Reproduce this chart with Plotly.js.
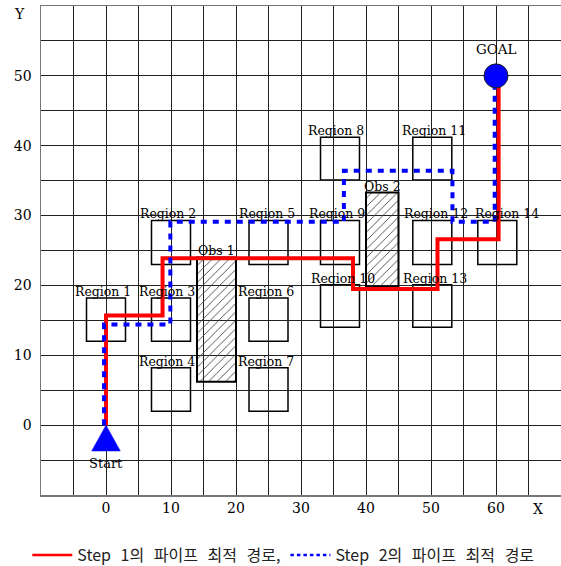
<!DOCTYPE html>
<html>
<head>
<meta charset="utf-8">
<script src="https://cdn.plot.ly/plotly-3.0.1.min.js"></script>
<style>html,body{margin:0;padding:0;background:#fff}#chart{width:561px;height:566px}
.legendtext{word-spacing:6px}</style>
</head>
<body>
<div id="chart"></div>
<script>
// ---- data ----
const regionNames = ['Region 1','Region 2','Region 3','Region 4','Region 5','Region 6','Region 7',
  'Region 8','Region 9','Region 10','Region 11','Region 12','Region 13','Region 14'];
const regionX0 = [-3, 7, 7, 7, 22, 22, 22, 33, 33, 33, 47.2, 47.2, 47.2, 57.2];
const regionX1 = [ 3, 13, 13, 13, 28, 28, 28, 39, 39, 39, 53.2, 53.2, 53.2, 63.2];
const regionY0 = [12, 23, 12, 2, 23, 12, 2, 35.1, 23, 14, 35.1, 23, 14, 23];
const regionY1 = [18.2, 29.3, 18.2, 8.2, 29.3, 18.2, 8.2, 41.2, 29.3, 20.1, 41.2, 29.3, 20.1, 29.3];
const labelDx  = [-0.5, -0.5, -0.6, -0.6, -0.3, -0.4, -0.4, -0.6, -0.5, 0.5, 0.3, 0.5, 0.4, 1.5];

const obsNames = ['Obs 1', 'Obs 2'];
const obsX0 = [14, 40];
const obsX1 = [20, 45];
const obsY0 = [6.2, 19.8];
const obsY1 = [24, 33.3];

const step1X = [0, 0, 8.7, 8.7, 38, 38, 51, 51, 60.4, 60.4];
const step1Y = [0, 15.7, 15.7, 23.9, 23.9, 19.5, 19.5, 26.6, 26.6, 50];
const step2X = [-0.3, -0.3, 9.9, 9.9, 36.6, 36.6, 53.3, 53.3, 59.8, 59.8];
const step2Y = [0, 14.4, 14.4, 29.1, 29.1, 36.4, 36.4, 29.1, 29.1, 50];

const startPt = [0, 0];
const goalPt = [60, 50];

const xTickVals = [0, 10, 20, 30, 40, 50, 60];
const yTickVals = [0, 10, 20, 30, 40, 50];

const seriesNames = ['Step 1의 파이프 최적 경로,', 'Step 2의 파이프 최적 경로'];

// ---- build ----
const serif = 'DejaVu Serif';
const traces = [];

traces.push({
  type: 'bar',
  x: obsX0.map((v, i) => (v + obsX1[i]) / 2),
  width: obsX0.map((v, i) => obsX1[i] - v),
  base: obsY0,
  y: obsY0.map((v, i) => obsY1[i] - v),
  marker: {
    color: 'rgba(255,255,255,0)',
    line: {color: '#000', width: 2},
    pattern: {shape: '/', fgcolor: '#444', bgcolor: 'rgba(255,255,255,0)', size: 6, solidity: 0.15}
  },
  showlegend: false, hoverinfo: 'skip'
});

traces.push({
  type: 'scatter', mode: 'lines', name: seriesNames[0],
  x: step1X, y: step1Y, showlegend: false,
  line: {color: '#ff0000', width: 4}
});
traces.push({
  type: 'scatter', mode: 'lines', name: seriesNames[1],
  x: step2X, y: step2Y, showlegend: false,
  line: {color: '#0000ff', width: 4, dash: '6px,6px'}
});
// legend entries (thin lines as in the reference legend)
traces.push({
  type: 'scatter', mode: 'lines', name: seriesNames[0], x: [null], y: [null],
  line: {color: '#ff0000', width: 2.5}, hoverinfo: 'skip'
});
traces.push({
  type: 'scatter', mode: 'lines', name: seriesNames[1], x: [null], y: [null],
  line: {color: '#0000ff', width: 2.5, dash: '3.5px,3px'}, hoverinfo: 'skip'
});

// start triangle
const triHW = 2.2, triH = 3.7;
traces.push({
  type: 'scatter', mode: 'lines', fill: 'toself', fillcolor: '#0000ff',
  x: [startPt[0] - triHW, startPt[0] + triHW, startPt[0], startPt[0] - triHW],
  y: [startPt[1] - triH, startPt[1] - triH, startPt[1], startPt[1] - triH],
  line: {color: '#0000ff', width: 0.5}, showlegend: false, hoverinfo: 'skip'
});
// goal
traces.push({
  type: 'scatter', mode: 'markers', x: [goalPt[0]], y: [goalPt[1]],
  marker: {color: '#0000ff', size: 24, line: {color: '#222', width: 1}},
  showlegend: false, hoverinfo: 'skip'
});

const shapes = regionNames.map((n, i) => ({
  type: 'rect', xref: 'x', yref: 'y', layer: 'below',
  x0: regionX0[i], x1: regionX1[i], y0: regionY0[i], y1: regionY1[i],
  line: {color: '#000', width: 1.5}, fillcolor: 'rgba(0,0,0,0)'
}));

const annotations = [];
regionNames.forEach((n, i) => {
  annotations.push({
    x: (regionX0[i] + regionX1[i]) / 2 + labelDx[i], y: regionY1[i],
    xref: 'x', yref: 'y', text: n, showarrow: false,
    xanchor: 'center', yanchor: 'bottom', yshift: -3,
    font: {family: serif, size: 12.5, color: '#000'}
  });
});
obsNames.forEach((n, i) => {
  annotations.push({
    x: (obsX0[i] + obsX1[i]) / 2, y: obsY1[i],
    xref: 'x', yref: 'y', text: n, showarrow: false,
    xanchor: 'center', yanchor: 'bottom', yshift: -3,
    font: {family: serif, size: 12.5, color: '#000'}
  });
});
annotations.push({x: startPt[0], y: startPt[1], xref: 'x', yref: 'y', text: 'Start', showarrow: false,
  xanchor: 'center', yanchor: 'middle', yshift: -38, font: {family: serif, size: 13, color: '#000'}});
annotations.push({x: goalPt[0], y: goalPt[1], xref: 'x', yref: 'y', text: 'GOAL', showarrow: false,
  xanchor: 'center', yanchor: 'middle', yshift: 27, font: {family: serif, size: 13.5, color: '#000'}});
annotations.push({x: 0.956, y: -0.0286, xref: 'paper', yref: 'paper', text: 'X', showarrow: false,
  xanchor: 'center', yanchor: 'middle', font: {family: serif, size: 14, color: '#000'}});
annotations.push({x: -0.0413, y: 0.984, xref: 'paper', yref: 'paper', text: 'Y', showarrow: false,
  xanchor: 'center', yanchor: 'middle', font: {family: serif, size: 14, color: '#000'}});

const layout = {
  width: 561, height: 566,
  margin: {l: 41, r: 0, t: 6, b: 71},
  paper_bgcolor: '#fff', plot_bgcolor: '#fff',
  barmode: 'overlay',
  xaxis: {
    range: [-10, 70], tickmode: 'array', tickvals: xTickVals, ticktext: xTickVals.map(String),
    showgrid: true, gridcolor: '#222', gridwidth: 1,
    minor: {dtick: 5, tick0: 0, showgrid: true, gridcolor: '#222', gridwidth: 1},
    zeroline: false, showline: true, mirror: true, linecolor: '#777', linewidth: 1.5,
    ticks: '', tickfont: {family: serif, size: 14, color: '#000'}, fixedrange: true
  },
  yaxis: {
    range: [-10, 60], tickmode: 'array', tickvals: yTickVals, ticktext: yTickVals.map(String),
    showgrid: true, gridcolor: '#222', gridwidth: 1,
    minor: {dtick: 5, tick0: 0, showgrid: true, gridcolor: '#222', gridwidth: 1},
    zeroline: false, showline: true, mirror: true, linecolor: '#777', linewidth: 1.5,
    ticks: '', ticklabelstandoff: 5, tickfont: {family: serif, size: 14, color: '#000'}, fixedrange: true
  },
  shapes: shapes,
  annotations: annotations,
  showlegend: true,
  legend: {
    orientation: 'h', x: 0.505, xref: 'container', xanchor: 'center',
    y: 0.0194, yref: 'container', yanchor: 'middle', itemwidth: 40,
    font: {family: 'Noto Sans CJK KR', size: 16, color: '#222'},
    bgcolor: 'rgba(0,0,0,0)'
  }
};

Plotly.newPlot('chart', traces, layout, {displayModeBar: false, staticPlot: true});
</script>
</body>
</html>
